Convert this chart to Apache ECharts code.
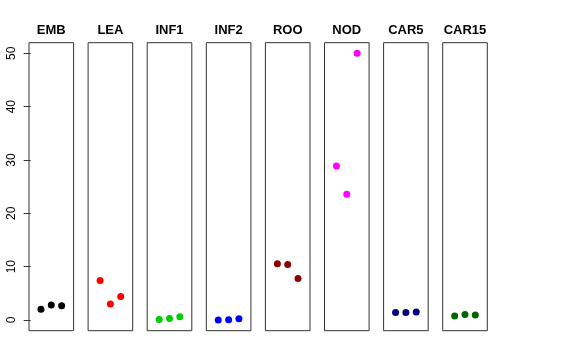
<!DOCTYPE html>
<html>
<head>
<meta charset="utf-8">
<script src="https://cdn.jsdelivr.net/npm/echarts@6/dist/echarts.min.js"></script>
<style>html,body{margin:0;padding:0;background:#fff}#c{width:576px;height:360px}</style>
</head>
<body>
<div id="c"></div>
<script>
const panels = ['EMB','LEA','INF1','INF2','ROO','NOD','CAR5','CAR15'];
const colors = ['#000000','#FF0000','#00CD00','#0000FF','#8B0000','#FF00FF','#000080','#006400'];
const EMB = [2.0, 2.8, 2.7];
const LEA = [7.4, 3.0, 4.4];
const INF1 = [0.1, 0.3, 0.6];
const INF2 = [0.0, 0.05, 0.25];
const ROO = [10.55, 10.4, 7.8];
const NOD = [28.9, 23.6, 50.0];
const CAR5 = [1.4, 1.4, 1.5];
const CAR15 = [0.75, 1.05, 0.95];
const values = [EMB, LEA, INF1, INF2, ROO, NOD, CAR5, CAR15];
const yTicks = [0, 10, 20, 30, 40, 50];

const chart = echarts.init(document.getElementById('c'), null, {renderer:'canvas'});
const grids = [], xAxes = [], yAxes = [], series = [], texts = [];
const left0 = 29, pitch = 59.1, w = 44.6;
panels.forEach((name, i) => {
  const l = left0 + i * pitch;
  grids.push({left: l, top: 42.7, width: w, height: 288, show: true, borderColor: '#333', borderWidth: 1, backgroundColor: 'transparent'});
  xAxes.push({type: 'value', gridIndex: i, min: -0.16, max: 4.16, show: false});
  yAxes.push({
    type: 'value', gridIndex: i, min: -2, max: 52, interval: 10,
    show: i === 0,
    axisLine: {show: false},
    splitLine: {show: false},
    axisTick: {show: i === 0, length: 7, lineStyle: {color: '#333'}, customValues: yTicks},
    axisLabel: {show: i === 0, rotate: 90, margin: 11, fontSize: 12, color: '#000', fontFamily: 'Liberation Sans, Arial, sans-serif', customValues: yTicks}
  });
  series.push({
    type: 'scatter', xAxisIndex: i, yAxisIndex: i, symbol: 'circle', symbolSize: 7,
    itemStyle: {color: colors[i], opacity: 1},
    data: values[i].map((v, k) => [k + 1, v]),
    silent: true
  });
  texts.push({type: 'text', x: l + w / 2, y: 30, silent: true,
    style: {text: name, textAlign: 'center', textVerticalAlign: 'middle', fill: '#000',
      font: 'bold 13px "Liberation Sans", Arial, sans-serif'}});
});
chart.setOption({animation: false, grid: grids, xAxis: xAxes, yAxis: yAxes, series: series, graphic: texts});
</script>
</body>
</html>
